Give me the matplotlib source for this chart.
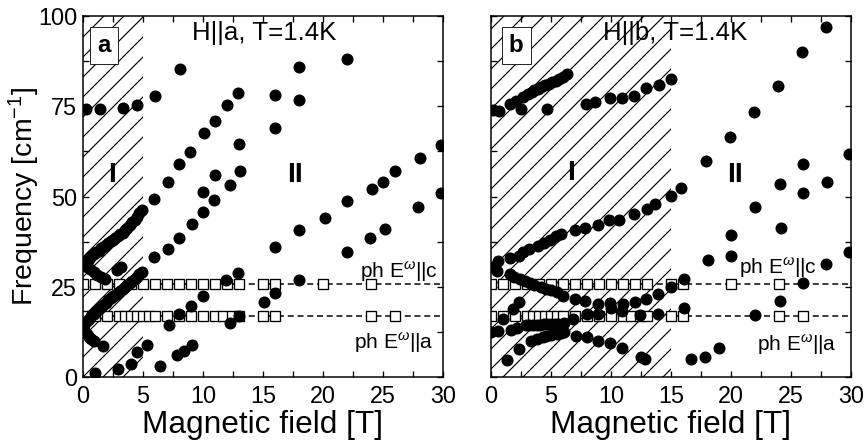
import matplotlib
matplotlib.use('Agg')
import matplotlib.pyplot as plt
from matplotlib.ticker import MultipleLocator

plt.rcParams['font.family'] = ['Liberation Sans', 'DejaVu Sans']
plt.rcParams['mathtext.fontset'] = 'custom'
plt.rcParams['mathtext.rm'] = 'Liberation Sans'
plt.rcParams['mathtext.it'] = 'Liberation Sans:italic'
plt.rcParams['hatch.linewidth'] = 0.7

# ---- phonon lines (open squares) ----
ph_c_freq = 25.8
ph_a_freq = 17.0
ph_c_field = [0, 1, 2, 3, 4, 5, 6, 7, 8, 9, 10, 11, 12, 13, 15, 16, 20, 24]
ph_a_field = [0, 1, 2, 3, 3.5, 4, 4.5, 5, 5.5, 6, 7, 8, 9, 10, 11, 11.7, 12.4, 13,
              15, 16, 24, 26]

# ---- panel a: H||a ----
a_field_I = [0.1, 0.3, 0.5, 0.7, 0.9, 1.1, 1.3, 1.5, 1.7, 1.9, 2.1, 2.3, 2.5, 2.7,
             2.9, 3.1, 3.3, 3.5, 3.7, 3.9, 4.1, 4.3, 4.5, 4.7, 4.9,
             0.3, 0.6, 0.9, 1.2, 1.5, 1.8, 2.8, 3.2,
             0.1, 0.3, 0.5, 0.7, 0.9, 1.1, 1.3, 1.5, 1.7, 1.9, 2.1, 2.3, 2.5, 2.7,
             2.9, 3.1, 3.3, 3.5, 3.7, 3.9, 4.1, 4.3, 4.5, 4.7, 4.9,
             0.1, 0.3, 0.5, 0.7, 0.9,
             1.0, 1.7, 2.9, 4.0, 4.5, 5.3,
             0.25, 1.4, 3.3, 4.5]
a_freq_I = [31.5, 32.0, 32.8, 33.5, 34.0, 34.5, 35.0, 35.6, 36.0, 36.5, 37.0, 37.6,
            38.0, 38.6, 39.0, 39.6, 40.0, 40.8, 41.4, 42.0, 42.8, 43.6, 44.4, 45.3,
            46.2,
            30.5, 29.8, 29.0, 28.3, 27.6, 27.2, 29.6, 30.5,
            14.5, 15.5, 16.2, 16.8, 17.5, 18.2, 18.8, 19.5, 20.0, 20.6, 21.2, 21.8,
            22.3, 22.8, 23.3, 23.8, 24.3, 24.9, 25.5, 26.0, 26.6, 27.2, 27.8, 28.4,
            29.0,
            13.0, 12.0, 11.2, 10.6, 10.0,
            1.0, 8.7, 2.3, 3.7, 7.0, 9.0,
            74.2, 74.2, 74.5, 75.4]
a_field_II = [6, 8.1, 12.9, 12, 11, 10.1, 8.9, 8, 7.1, 5.9, 13, 11, 10, 13.1, 12.25,
              10.9, 10, 9.1, 8, 7.1, 5.9, 16, 16, 18, 18, 22,
              18, 16, 18, 11.9, 12.9, 10, 9, 8, 7.2, 12.25, 13, 15.1, 16,
              6.4, 7.8, 8.4, 9.1,
              20.2, 22, 24.1, 25, 26, 28.1, 29.8, 22, 23.9, 25.2, 27.9, 29.8]
a_freq_II = [77.8, 85.3, 78.8, 75.3, 71.0, 67.5, 62.4, 58.9, 54.1, 49.2, 64.5, 56.0,
             51.3, 57.2, 53.2, 49.0, 45.6, 42.4, 38.4, 35.5, 33.3, 78.0, 69.0, 86.0,
             76.7, 88.0,
             40.6, 35.9, 27.0, 27.0, 28.9, 22.4, 19.8, 17.5, 14.4, 15.0, 16.8, 20.8,
             23.4,
             3.0, 6.1, 7.2, 8.9,
             44.0, 48.7, 52.0, 54.1, 57.2, 60.8, 64.3, 34.5, 38.4, 40.9, 47.0, 51.0]

# ---- panel b: H||b ----
b_field_top = [0.2, 0.7, 1.55, 2.1, 2.5, 2.7, 3.1, 3.4, 3.6, 3.9, 4.2, 4.5, 4.7, 4.8,
               5.1, 5.4, 5.7, 6.0, 6.3,
               7.9, 8.7, 9.9, 10.9, 11.9, 12.9, 14, 15]
b_freq_top = [74.0, 73.7, 75.6, 76.5, 74.2, 77.5, 78.3, 79.0, 79.4, 79.8, 80.4, 80.8,
              74.2, 81.2, 81.6, 82.0, 82.6, 83.2, 83.8,
              75.6, 76.3, 77.4, 77.4, 77.8, 80.0, 80.9, 82.5]
b_field_mid = [0.05, 0.6, 1.6, 2.3, 2.7, 3.2, 3.9, 4.4, 4.9, 5.4, 5.8, 7, 7.8, 8.9,
               9.8, 10.7, 11.9, 13, 13.7, 15,
               0.5, 1.6, 1.9, 2.4, 2.8, 3.25, 3.6, 4.2, 4.6, 5.0, 5.5, 6.0, 7, 7.8,
               8.9, 9.9, 11, 12, 12.9, 13.9, 15,
               1.85, 2.3, 1.0, 6.8, 8.0, 8.9, 10.0, 10.9, 12.4, 13.9]
b_freq_mid = [30.6, 32.2, 33.0, 33.5, 34.7, 35.4, 36.3, 37.2, 38.0, 39.1, 39.6, 40.7,
              41.4, 42.1, 43.5, 43.5, 45.2, 46.5, 47.9, 50.1,
              29.5, 28.4, 27.6, 27.2, 26.5, 26.1, 25.5, 24.8, 24.4, 24.0, 23.5, 22.5,
              21.6, 21.0, 20.1, 20.4, 20.2, 20.7, 21.7, 23.0, 24.8,
              18.8, 20.8, 16.2, 16.1, 17.5, 17.5, 19.2, 18.4, 17.1, 17.5]
b_field_low = [0.0, 0.6, 1.7, 2.2, 2.9, 3.2, 3.5, 3.8, 4.1, 4.4, 4.7, 5.0, 5.3, 5.6,
               6.1,
               1.3, 2.3, 3.3, 3.8, 4.3, 4.6, 5.0, 5.5, 5.8, 6.1, 7.1, 8.0, 8.9, 9.9,
               10.9, 12.5, 12.8]
b_freq_low = [12.6, 12.8, 13.1, 13.5, 14.4, 14.5, 14.5, 14.5, 14.5, 14.6, 14.6, 14.7,
              14.7, 14.8, 14.9,
              4.8, 7.8, 10.0, 10.6, 11.0, 11.4, 11.7, 11.9, 12.1, 12.4, 11.4, 11.1,
              10.1, 9.3, 8.1, 5.5, 5.0]
b_field_II = [27.9, 25.9, 23.9, 21.9, 19.9, 17.9, 29.8, 26, 24.1, 26, 28, 22, 15.85,
              20, 20, 18.1, 24.2, 27.9, 29.8, 26, 16.05, 16.1, 24.1, 22, 16.7, 17.8,
              19]
b_freq_II = [96.9, 89.9, 80.7, 73.5, 66.6, 59.9, 61.8, 58.9, 53.5, 51.1, 54.1, 47.0,
             52.4, 39.4, 33.6, 32.5, 41.3, 31.2, 34.5, 26.0, 27.1, 19.1, 21.0, 17.3,
             5.0, 5.6, 8.0]

panels = [
    dict(letter='a', title='H||a, T=1.4K', hatch_end=5,
         field=a_field_I + a_field_II, freq=a_freq_I + a_freq_II,
         I_pos=(2.4, 56), II_pos=(17.7, 56), title_x=9.1, letter_x=1.75,
         c_pos=(23.1, 29.2), a_pos=(22.6, 9.3)),
    dict(letter='b', title='H||b, T=1.4K', hatch_end=15,
         field=b_field_top + b_field_mid + b_field_low + b_field_II,
         freq=b_freq_top + b_freq_mid + b_freq_low + b_freq_II,
         I_pos=(6.7, 56.4), II_pos=(20.3, 56), title_x=9.3, letter_x=2.1,
         c_pos=(20.7, 30.2), a_pos=(22.2, 9.0)),
]

fig = plt.figure(figsize=(868 / 120, 448 / 120), dpi=120)
lefts = [83 / 868, 491 / 868]
width = 360 / 868
bottom = 71 / 448
height = 361 / 448

for i, p in enumerate(panels):
    ax = fig.add_axes([lefts[i], bottom, width, height])
    ax.axvspan(0, p['hatch_end'], facecolor='none', edgecolor='black',
               hatch='//', linewidth=0, zorder=0)

    for yv in (ph_c_freq, ph_a_freq):
        ax.axhline(yv, color='black', linestyle=(0, (4, 2.5)), linewidth=0.9, zorder=1)
    ax.plot(ph_c_field, [ph_c_freq] * len(ph_c_field), linestyle='none', marker='s',
            markersize=6.5, markerfacecolor='white', markeredgecolor='black',
            markeredgewidth=0.8, zorder=2)
    ax.plot(ph_a_field, [ph_a_freq] * len(ph_a_field), linestyle='none', marker='s',
            markersize=6.5, markerfacecolor='white', markeredgecolor='black',
            markeredgewidth=0.8, zorder=2)

    ax.plot(p['field'], p['freq'], linestyle='none', marker='o', markersize=6.2,
            color='black', zorder=3)

    ax.set_xlim(0, 30)
    ax.set_ylim(0, 100)
    ax.xaxis.set_major_locator(MultipleLocator(5))
    ax.xaxis.set_minor_locator(MultipleLocator(2.5))
    ax.yaxis.set_major_locator(MultipleLocator(25))
    ax.yaxis.set_minor_locator(MultipleLocator(12.5))
    ax.tick_params(which='both', direction='in', top=True, right=True,
                   length=3.5, width=0.8, labelsize=14)
    ax.tick_params(axis='x', pad=5)
    for s in ax.spines.values():
        s.set_linewidth(0.9)

    ax.set_xlabel('Magnetic field [T]', fontsize=19, labelpad=1)
    if i == 0:
        ax.set_ylabel('Frequency [cm$^{-1}$]', fontsize=17)
        ax.yaxis.set_label_coords(-0.115, 0.5)
    else:
        ax.set_yticklabels([])

    ax.text(p['title_x'], 95.3, p['title'], fontsize=15.5, va='center', ha='left')
    ax.text(p['letter_x'], 91.8, p['letter'], fontsize=14.5, fontweight='bold',
            ha='center', va='center',
            bbox=dict(boxstyle='square,pad=0.3', facecolor='white',
                      edgecolor='black', linewidth=0.5))
    ax.text(*p['I_pos'], 'I', fontsize=17, fontweight='bold', ha='center', va='center')
    ax.text(*p['II_pos'], 'II', fontsize=17, fontweight='bold', ha='center', va='center')
    ax.text(*p['c_pos'], r'ph E$^{\omega}$||c', fontsize=12.5, ha='left', va='center')
    ax.text(*p['a_pos'], r'ph E$^{\omega}$||a', fontsize=12.5, ha='left', va='center')

fig.savefig('out.png', dpi=120)
